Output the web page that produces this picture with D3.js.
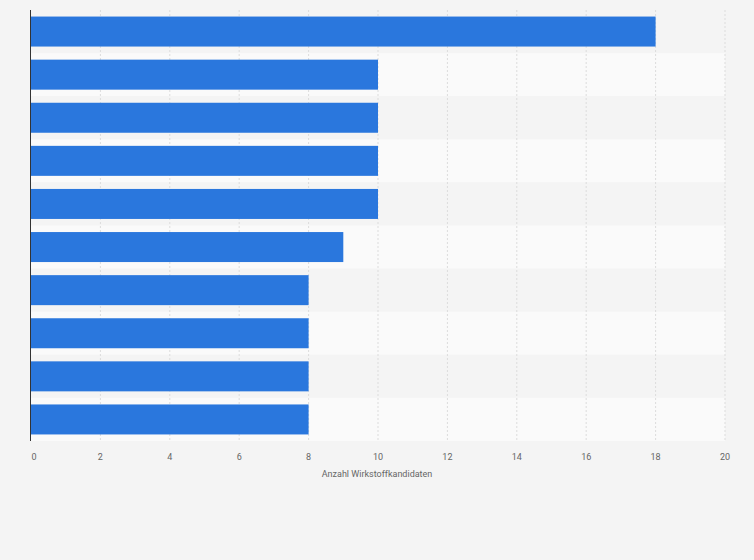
<!DOCTYPE html>
<html><head><meta charset="utf-8">
<script src="https://cdn.jsdelivr.net/npm/d3@7"></script>
<style>body{margin:0;background:#f4f4f4;}</style>
</head><body>
<svg id="c" width="754" height="560"></svg>
<script>
const categories = ["A","B","C","D","E","F","G","H","I","J"];
const values = [18,10,10,10,10,9,8,8,8,8];
const ticks = [0,2,4,6,8,10,12,14,16,18,20];
const axisTitle = "Anzahl Wirkstoffkandidaten";

const svg = d3.select("#c");
const m = {l:31, r:725, t:10, b:441};
const x = d3.scaleLinear().domain([0,20]).range([m.l, m.r]);
const y = d3.scaleBand().domain(categories).range([m.t, m.b]).paddingInner(0).paddingOuter(0);

svg.append("rect").attr("width",754).attr("height",560).attr("fill","#f4f4f4");
svg.selectAll(".row").data(categories).join("rect")
  .attr("x", m.l).attr("y", d=>y(d)).attr("width", m.r-m.l).attr("height", y.bandwidth())
  .attr("fill", (d,i)=> i%2 ? "#fafafa" : "#f4f4f4");

svg.selectAll(".grid").data(ticks.slice(1)).join("line")
  .attr("x1",d=>x(d)).attr("x2",d=>x(d)).attr("y1",m.t).attr("y2",m.b)
  .attr("stroke","#dcdcdc").attr("stroke-dasharray","2,2").attr("stroke-width",1);

const bh = 30;
svg.selectAll(".bar").data(values).join("rect")
  .attr("x", x(0)).attr("y",(d,i)=>y(categories[i])+(y.bandwidth()-bh)/2)
  .attr("width", d=>x(d)-x(0)).attr("height", bh).attr("fill","#2a77dd");

svg.append("line").attr("x1",m.l-0.5).attr("x2",m.l-0.5).attr("y1",m.t).attr("y2",m.b)
  .attr("stroke","#333").attr("stroke-width",1);

svg.selectAll(".tl").data(ticks).join("text")
  .attr("x",d=>x(d)+ (d===0?3:0)).attr("y",460).attr("text-anchor","middle")
  .attr("font-family","Roboto, Arial, sans-serif").attr("font-size",9).attr("fill","#666")
  .text(d=>d);

svg.append("text").attr("x",377).attr("y",477).attr("text-anchor","middle")
  .attr("font-family","Roboto, Arial, sans-serif").attr("font-size",9).attr("fill","#666")
  .text(axisTitle);
</script>
</body></html>
